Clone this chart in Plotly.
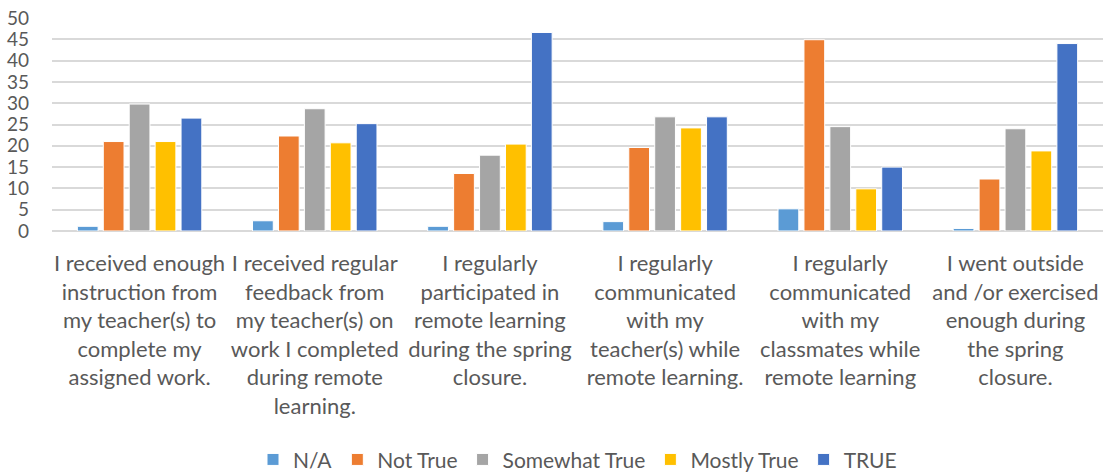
import plotly.graph_objects as go

categories = [
    "I received enough<br>instruction from<br>my teacher(s) to<br>complete my<br>assigned work.",
    "I received regular<br>feedback from<br>my teacher(s) on<br>work I completed<br>during remote<br>learning.",
    "I regularly<br>participated in<br>remote learning<br>during the spring<br>closure.",
    "I regularly<br>communicated<br>with my<br>teacher(s) while<br>remote learning.",
    "I regularly<br>communicated<br>with my<br>classmates while<br>remote learning",
    "I went outside<br>and /or exercised<br>enough during<br>the spring<br>closure.",
]

na = [1.1, 2.4, 1.1, 2.2, 5.2, 0.6]
not_true = [21.0, 22.3, 13.5, 19.6, 44.9, 12.2]
somewhat_true = [29.8, 28.7, 17.8, 26.8, 24.5, 24.0]
mostly_true = [21.0, 20.7, 20.4, 24.2, 9.9, 18.8]
true_vals = [26.5, 25.2, 46.6, 26.8, 15.0, 44.0]

series = [
    ("N/A", na, "#5B9BD5"),
    ("Not True", not_true, "#ED7D31"),
    ("Somewhat True", somewhat_true, "#A5A5A5"),
    ("Mostly True", mostly_true, "#FFC000"),
    ("TRUE", true_vals, "#4472C4"),
]

fig = go.Figure()
for name, vals, color in series:
    fig.add_trace(go.Bar(
        x=categories, y=vals, name=name,
        marker=dict(color=color, line=dict(color="white", width=1)),
    ))

font = "Lato, 'Open Sans', sans-serif"
fig.update_layout(
    width=1113, height=474,
    margin=dict(l=52, r=10, t=18, b=243, autoexpand=False),
    plot_bgcolor="white", paper_bgcolor="white",
    barmode="group", bargap=0.26, bargroupgap=0.2,
    font=dict(family=font, size=20, color="#595959"),
    showlegend=True,
    legend=dict(
        orientation="h", x=0.5, xanchor="center",
        yref="container", y=0.03, yanchor="middle",
        font=dict(size=21, color="#595959"), itemwidth=30,
        traceorder="normal",
    ),
    xaxis=dict(
        showline=False, ticks="", tickangle=0, automargin=False,
        ticklabelstandoff=17,
        tickfont=dict(size=22, color="#595959"),
    ),
    yaxis=dict(
        range=[0, 50], dtick=5, showgrid=True, gridcolor="#d9d9d9",
        gridwidth=1.5, zeroline=True, zerolinecolor="#d9d9d9",
        zerolinewidth=1.5, ticks="", ticklabelstandoff=22, automargin=False,
        tickfont=dict(size=19, color="#595959"),
    ),
)

# drop the page's default body margin so the figure sits at the top-left
fig.write_html("out.html", config={"displayModeBar": False},
               post_script="document.body.style.margin='0';")
